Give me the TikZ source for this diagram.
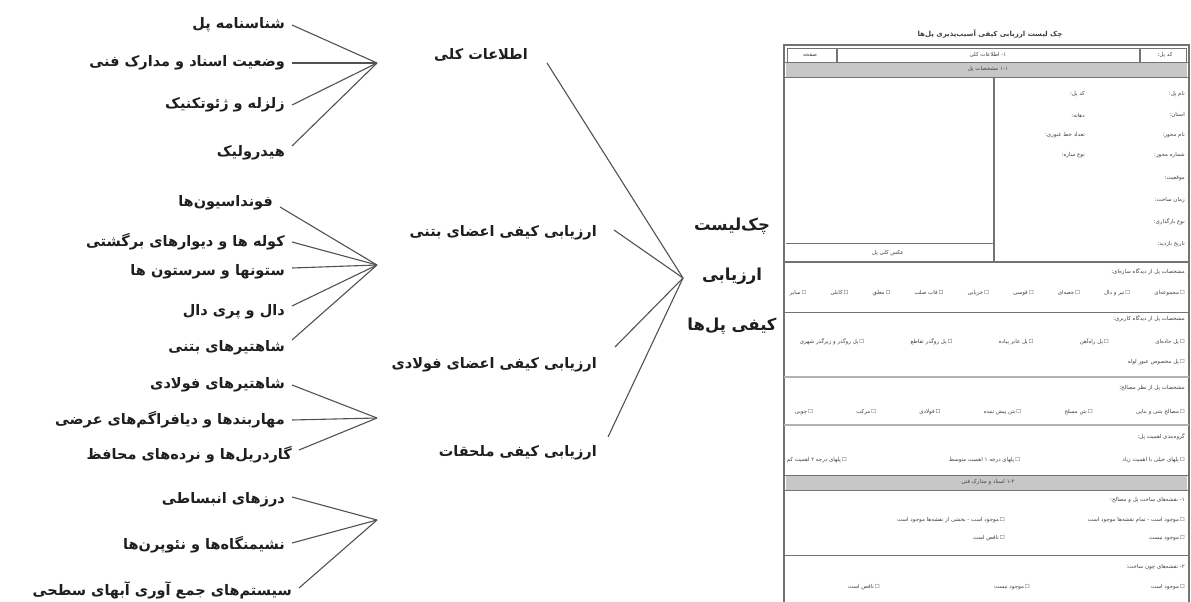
\documentclass[tikz,border=0pt]{standalone}
\usepackage{fontspec}
\newfontfamily\fa[Script=Arabic]{DejaVu Sans}
\TeXXeTstate=1
\newcommand{\RL}[1]{\beginR #1\endR}
\newcommand{\cb}{☐\,}
\begin{document}
\begin{tikzpicture}[x=1pt,y=-1pt,
  leaf/.style={anchor=east, inner xsep=7pt, inner ysep=1pt, font=\fa\bfseries\fontsize{14.5}{16}\selectfont, text=black!88},
  midlab/.style={anchor=east, inner xsep=0pt, inner ysep=1pt, font=\fa\bfseries\fontsize{14.5}{16}\selectfont, text=black!88},
  mainlab/.style={align=center, inner sep=0pt, font=\fa\bfseries\fontsize{16.5}{50}\selectfont, text=black!88},
  conn/.style={draw=black!68, line width=1.1pt},
  frm/.style={draw=black!55, line width=0.8pt},
  frmthick/.style={draw=black!55, line width=1.6pt},
  ft/.style={font=\fa\fontsize{5.5}{6}\selectfont, text=black!75, inner sep=0pt},
  fr/.style={ft, anchor=east},
]
\useasboundingbox (0,0) rectangle (1191,602);
\fill[white] (0,0) rectangle (1191,602);

% ---------- hubs ----------
\coordinate (g1) at (377,63);
\coordinate (g2) at (377,265);
\coordinate (g3) at (377,418);
\coordinate (g4) at (377,520);
\coordinate (gm) at (683,278);

% ---------- leaves ----------
\node[leaf] (l1) at (292,25) {\RL{شناسنامه پل}};
\node[leaf] (l2) at (292,63) {\RL{وضعیت اسناد و مدارک فنی}};
\node[leaf] (l3) at (292,105) {\RL{زلزله و ژئوتکنیک}};
\node[leaf] (l4) at (292,153) {\RL{هیدرولیک}};

\node[leaf] (l5) at (280,203) {\RL{فونداسیون‌ها}};
\node[leaf] (l6) at (292,242) {\RL{کوله ها و دیوارهای برگشتی}};
\node[leaf] (l7) at (292,272) {\RL{ستونها و سرستون ها}};
\node[leaf] (l8) at (292,312) {\RL{دال و پری دال}};
\node[leaf] (l9) at (292,348) {\RL{شاهتیرهای بتنی}};

\node[leaf] (l10) at (292,385) {\RL{شاهتیرهای فولادی}};
\node[leaf] (l11) at (292,420) {\RL{مهاربندها و دیافراگم‌های عرضی}};
\node[leaf] (l12) at (299,455) {\RL{گاردریل‌ها و نرده‌های محافظ}};

\node[leaf] (l13) at (292,500) {\RL{درزهای انبساطی}};
\node[leaf] (l14) at (292,545) {\RL{نشیمنگاه‌ها و نئوپرن‌ها}};
\node[leaf] (l15) at (299,590) {\RL{سیستم‌های جمع آوری آبهای سطحی}};

\draw[conn] (l1.east) -- (g1);
\draw[conn] (l2.east) -- (g1);
\draw[conn] (l3.east) -- (g1);
\draw[conn] ([yshift=7pt]l4.east) -- (g1);
\draw[conn] ([yshift=-4pt]l5.east) -- (g2);
\draw[conn] (l6.east) -- (g2);
\draw[conn] ([yshift=4pt]l7.east) -- (g2);
\draw[conn] ([yshift=6pt]l8.east) -- (g2);
\draw[conn] ([yshift=8pt]l9.east) -- (g2);
\draw[conn] (l10.east) -- (g3);
\draw[conn] (l11.east) -- (g3);
\draw[conn] ([yshift=5pt]l12.east) -- (g3);
\draw[conn] ([yshift=3pt]l13.east) -- (g4);
\draw[conn] ([yshift=2pt]l14.east) -- (g4);
\draw[conn] ([yshift=2pt]l15.east) -- (g4);

% ---------- middle ----------
\node[midlab] (m1) at (528,55) {\RL{اطلاعات کلی}};
\node[midlab] (m2) at (597,233) {\RL{ارزیابی کیفی اعضای بتنی}};
\node[midlab] (m3) at (597,365) {\RL{ارزیابی کیفی اعضای فولادی}};
\node[midlab] (m4) at (597,453) {\RL{ارزیابی کیفی ملحقات}};

\draw[conn] ([xshift=19pt,yshift=-8pt]m1.east) -- (gm);
\draw[conn] ([xshift=17pt,yshift=3pt]m2.east) -- (gm);
\draw[conn] ([xshift=18pt,yshift=18pt]m3.east) -- (gm);
\draw[conn] ([xshift=11pt,yshift=16pt]m4.east) -- (gm);

\node[mainlab] (main) at (732,276) {\RL{چک‌لیست}\\ \RL{ارزیابی}\\ \RL{کیفی پل‌ها}};

% ---------- form ----------
\node[ft, font=\fa\bfseries\fontsize{7}{8}\selectfont] (ftitle) at (990,34) {\RL{چک لیست ارزیابی کیفی آسیب‌پذیری پل‌ها}};
\draw[frmthick] (784,602) -- (784,45) -- (1189,45) -- (1189,602);
\draw[frm] (787,48) rectangle (1186,62);
\draw[frmthick] (837,48) -- (837,62);
\draw[frmthick] (1140,48) -- (1140,62);
\fill[black!22] (786,62) rectangle (1187,77);
\draw[frm] (784,62) -- (1189,62);
\draw[frm] (784,77) -- (1189,77);
\node[ft] (h1) at (1165,55) {\RL{کد پل:}};
\node[ft] (h2) at (988,55) {\RL{۱- اطلاعات کلی}};
\node[ft] (h3) at (810,55) {\RL{صفحه}};
\node[ft] (b1) at (988,69) {\RL{۱-۱ مشخصات پل}};

\draw[frm, line width=1.1pt] (994,77) -- (994,262);
\draw[frm] (786,243) -- (994,243);
\node[ft] (photo) at (888,253) {\RL{عکس کلی پل}};

\node[fr] (r1) at (1185,94) {\RL{نام پل:}};
\node[fr] (r2) at (1185,115) {\RL{استان:}};
\node[fr] (r3) at (1185,135) {\RL{نام محور:}};
\node[fr] (r4) at (1185,155) {\RL{شماره محور:}};
\node[fr] (r5) at (1185,178) {\RL{موقعیت:}};
\node[fr] (r6) at (1185,200) {\RL{زمان ساخت:}};
\node[fr] (r7) at (1185,222) {\RL{نوع بارگذاری:}};
\node[fr] (r8) at (1185,244) {\RL{تاریخ بازدید:}};
\node[fr] (c1) at (1085,94) {\RL{کد پل:}};
\node[fr] (c2) at (1085,115) {\RL{دهانه:}};
\node[fr] (c3) at (1085,135) {\RL{تعداد خط عبوری:}};
\node[fr] (c4) at (1085,155) {\RL{نوع سازه:}};

\draw[frm, line width=1.1pt] (784,262) -- (1189,262);
\node[fr] (s1) at (1185,272) {\RL{مشخصات پل از دیدگاه سازه‌ای:}};
\node[fr] (s1r) at (1185,293) {\hbox to 395pt{\beginR\cb مجموعه‌ای\hfill\cb تیر و دال\hfill\cb جعبه‌ای\hfill\cb قوسی\hfill\cb خرپایی\hfill\cb قاب صلب\hfill\cb معلق\hfill\cb کابلی\hfill\cb سایر\endR}};
\draw[frm] (784,312) -- (1189,312);
\node[fr] (s2) at (1185,319) {\RL{مشخصات پل از دیدگاه کاربری:}};
\node[fr] (s2r) at (1185,342) {\hbox to 385pt{\beginR\cb پل جاده‌ای\hfill\cb پل راه‌آهن\hfill\cb پل عابر پیاده\hfill\cb پل روگذر تقاطع\hfill\cb پل روگذر و زیرگذر شهری\endR}};
\node[fr] (s2s) at (1185,362) {\RL{\cb پل مخصوص عبور لوله}};
\draw[frm, line width=1.6pt, draw=black!30] (784,377) -- (1189,377);
\node[fr] (s3) at (1185,388) {\RL{مشخصات پل از نظر مصالح:}};
\node[fr] (s3r) at (1185,412) {\hbox to 390pt{\beginR\cb مصالح بتنی و بنایی\hfill\cb بتن مسلح\hfill\cb بتن پیش تنیده\hfill\cb فولادی\hfill\cb مرکب\hfill\cb چوبی\endR}};
\draw[frm, line width=1.6pt, draw=black!30] (784,425) -- (1189,425);
\node[fr] (s4) at (1185,437) {\RL{گروه‌بندی اهمیت پل:}};
\node[fr] (s4r) at (1185,460) {\hbox to 398pt{\beginR\cb پلهای خیلی با اهمیت زیاد\hfill\cb پلهای درجه ۱ اهمیت متوسط\hfill\cb پلهای درجه ۲ اهمیت کم\endR}};
\fill[black!22] (786,475) rectangle (1187,490);
\draw[frm] (784,475) -- (1189,475);
\draw[frm] (784,490) -- (1189,490);
\node[ft] (b2) at (988,482) {\RL{۱-۲ اسناد و مدارک فنی}};
\node[fr] (s5) at (1185,500) {\RL{۱- نقشه‌های ساخت پل و مصالح:}};
\node[fr] (s5a) at (1185,520) {\RL{\cb موجود است - تمام نقشه‌ها موجود است}};
\node[fr] (s5b) at (1005,520) {\RL{\cb موجود است - بخشی از نقشه‌ها موجود است}};
\node[fr] (s5c) at (1185,538) {\RL{\cb موجود نیست}};
\node[fr] (s5d) at (1005,538) {\RL{\cb ناقص است}};
\draw[frm] (784,555) -- (1189,555);
\node[fr] (s6) at (1185,567) {\RL{۲- نقشه‌های چون ساخت:}};
\node[fr] (s6a) at (1185,587) {\RL{\cb موجود است}};
\node[fr] (s6b) at (1030,587) {\RL{\cb موجود نیست}};
\node[fr] (s6c) at (880,587) {\RL{\cb ناقص است}};
\end{tikzpicture}
\end{document}
